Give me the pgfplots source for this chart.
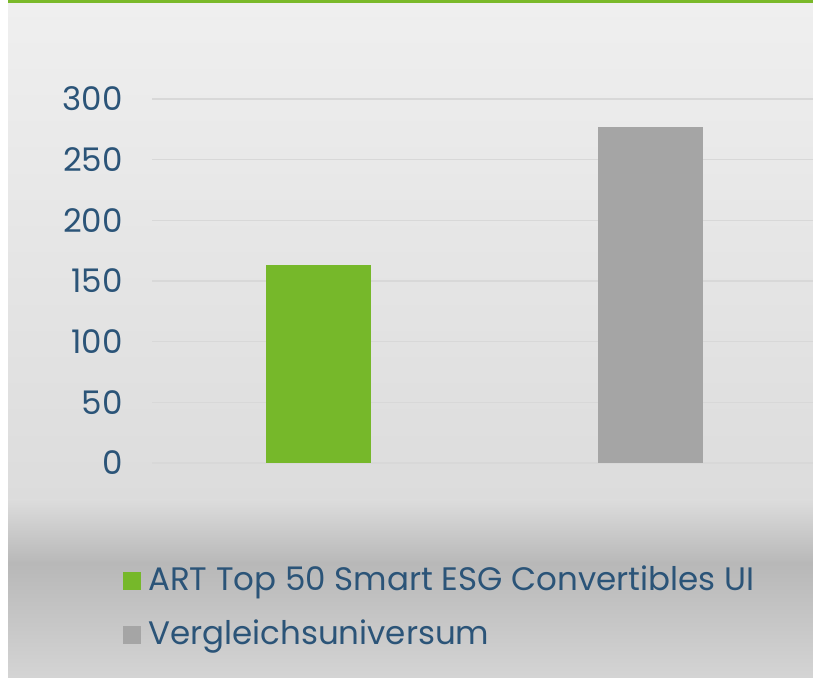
\documentclass[border=0pt]{standalone}
\usepackage{fontspec}
\setmainfont{Poppins}
\usepackage{pgfplots}
\pgfplotsset{compat=1.18}
\definecolor{txt}{HTML}{2B5478}
\definecolor{barg}{HTML}{76B82A}
\definecolor{bargr}{HTML}{A5A5A5}
\definecolor{topg}{HTML}{7AB929}
\definecolor{c1}{HTML}{EFEFEF}
\definecolor{c2}{HTML}{DCDCDC}
\definecolor{c3}{HTML}{B8B8B8}
\definecolor{c4}{HTML}{D4D4D4}
\definecolor{gridc}{HTML}{D8D8D8}
\begin{document}
\begin{tikzpicture}[x=1pt,y=1pt]
\useasboundingbox (0,0) rectangle (813,677);
\fill[white] (0,0) rectangle (813,677);
\shade[top color=c1, bottom color=c2] (8,176.5) rectangle (813,674);
\shade[top color=c2, bottom color=c3] (8,113.5) rectangle (813,177);
\shade[top color=c3, bottom color=c4] (8,0) rectangle (813,114);
\fill[topg] (8,674) rectangle (813,677);
\begin{axis}[
  at={(152pt,214pt)}, anchor=south west,
  scale only axis, width=665pt, height=364pt,
  xmin=-0.5, xmax=1.5, ymin=0, ymax=300,
  ytick={0,50,...,300}, xtick=\empty,
  axis line style={draw=none},
  tick style={draw=none},
  ymajorgrids, major grid style={draw=gridc, line width=1.2pt},
  /pgf/number format/assume math mode=true,
  yticklabel style={font=\fontsize{32.5}{38}\selectfont, text=txt, anchor=east, inner sep=0pt, xshift=-29pt},
  legend style={at={(axis description cs:-0.048,-0.2773)}, anchor=north west, draw=none, fill=none,
    font=\fontsize{32.5}{38}\selectfont, text=txt, row sep=29pt,
    nodes={inner sep=0pt, anchor=base west, text depth=0pt}},
  legend cell align=left,
  legend image code/.code={\fill[#1] (0pt,1pt) rectangle (18pt,19pt);},
  clip=false,
]
\addplot[ybar, bar width=105pt, fill=barg, draw=none] coordinates {(0,163)};
\addlegendentry{\hspace{7pt}ART Top 50 Smart ESG Convertibles UI}
\addplot[ybar, bar width=105pt, fill=bargr, draw=none] coordinates {(1,277)};
\addlegendentry{\hspace{7pt}Vergleichsuniversum}
\end{axis}
\end{tikzpicture}
\end{document}
